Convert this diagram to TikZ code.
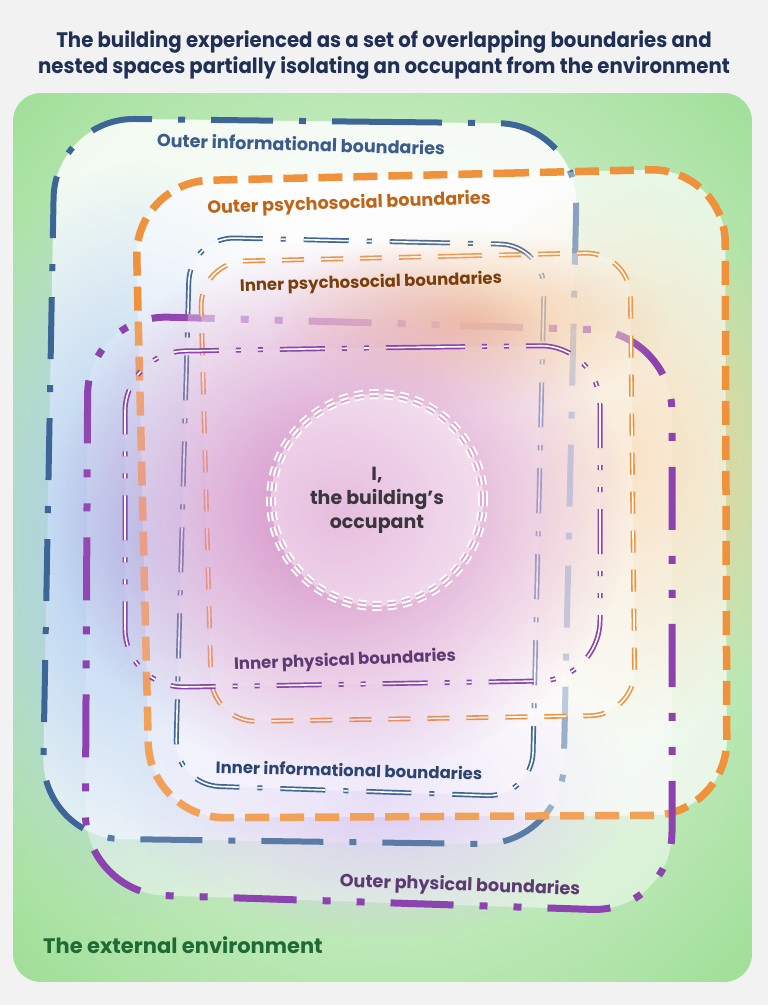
\documentclass[tikz,border=0pt]{standalone}
\usepackage{fontspec}
\setmainfont{Poppins}
\newfontfamily\titlefont[FakeStretch=0.94]{Poppins}
\usetikzlibrary{fadings}

\definecolor{pagebg}{HTML}{F2F2F2}
\definecolor{envgreen}{HTML}{A2E09A}
\definecolor{envtxt}{HTML}{1E6B36}
\definecolor{titlenavy}{HTML}{1F2F55}
\definecolor{infoblue}{HTML}{3D6597}
\definecolor{psyorange}{HTML}{F0913C}
\definecolor{physpurple}{HTML}{8C43B0}
\definecolor{oinfotxt}{HTML}{3B5B8E}
\definecolor{iinfotxt}{HTML}{2B4472}
\definecolor{opsytxt}{HTML}{C06418}
\definecolor{ipsytxt}{HTML}{7A3E0A}
\definecolor{physTxt}{HTML}{5C3A72}
\definecolor{occgray}{HTML}{3A363C}
\definecolor{occgap}{HTML}{E0A6D0}
\definecolor{leftblue}{HTML}{A6C6F2}
\definecolor{rightpeach}{HTML}{F4C78E}
\definecolor{lowlilac}{HTML}{D2BEF0}
\definecolor{midpink}{HTML}{CF7CBF}
\definecolor{toppeach}{HTML}{F2C49A}

\tikzfading[name=softblob, inner color=transparent!0, outer color=transparent!100]

\begin{document}
\begin{tikzpicture}[x=1pt, y=-1pt,
    lbl/.style={inner sep=0pt, font=\bfseries\fontsize{16.5}{18}\selectfont},
    biglbl/.style={inner sep=0pt, font=\bfseries\fontsize{17.6}{19}\selectfont},
    veil/.style={fill=white, fill opacity=#1},
    blob/.style={path fading=softblob, fill opacity=#1},
    oinfo/.style={draw=infoblue, line width=6pt, rounded corners=80pt, dash pattern=on 62pt off 26pt on 7pt off 26pt},
    opsy/.style={draw=psyorange, line width=7.5pt, rounded corners=75pt, dash pattern=on 24pt off 11pt},
    ophys/.style={draw=physpurple, line width=7pt, rounded corners=80pt, dash pattern=on 63pt off 26pt on 8pt off 26pt on 8pt off 26pt},
    iinfo/.style={draw=infoblue, line width=1.7pt, double=white, double distance=1.6pt, rounded corners=45pt, dash pattern=on 45pt off 18pt on 5pt off 18pt},
    ipsy/.style={draw=psyorange, line width=1.6pt, double=white, double distance=1.7pt, rounded corners=45pt, dash pattern=on 22pt off 17pt},
    iphys/.style={draw=physpurple, line width=1.7pt, double=white, double distance=1.6pt, rounded corners=60pt, dash pattern=on 45pt off 17pt on 5pt off 17pt on 5pt off 17pt},
    dashring/.style={dash pattern=on 9pt off 6pt}
]
    \useasboundingbox (0,0) rectangle (768,1005);
    \fill[pagebg] (0,0) rectangle (768,1005);

    \begin{scope}
        \clip[rounded corners=28pt] (13,93) rectangle (752,982);
        % --- the external environment ---
        \fill[envgreen] (13,93) rectangle (752,982);
        \fill[white, blob=.95] (384,530) ellipse (520pt and 600pt);

        % --- base tints ---
        \path[veil=.85, rounded corners=80pt] (300,121) -- (578,124) -- (562,845) -- (42,838) -- (55,118) -- cycle;
        \path[veil=.5, rounded corners=75pt] (430,175) -- (725,168) -- (727,815) -- (150,818) -- (135,182) -- cycle;
        \path[veil=.4, rounded corners=80pt] (380,323) -- (672,332) -- (672,912) -- (85,893) -- (88,315) -- cycle;
        \fill[leftblue, blob=1] (140,540) ellipse (230pt and 380pt);
        \fill[rightpeach, blob=1] (620,460) ellipse (200pt and 280pt);
        \fill[lowlilac, blob=1] (380,790) ellipse (260pt and 150pt);
    \end{scope}

    % --- outer boundaries ---
    \path[oinfo] (300,121) -- (578,124) -- (562,845) -- (42,838) -- (55,118) -- cycle;
    \path[veil=.4, opsy] (430,175) -- (725,168) -- (727,815) -- (150,818) -- (135,182) -- cycle;
    \path[veil=.15, ophys] (380,323) -- (672,332) -- (672,912) -- (85,893) -- (88,315) -- cycle;

    % --- inner boundaries ---
    \path[veil=.35, iinfo] (360,241) -- (545,245) -- (532,797) -- (175,785) -- (190,237) -- cycle;
    \path[veil=.35, ipsy] (415,257) -- (630,252) -- (635,715) -- (212,722) -- (200,262) -- cycle;
    \fill[toppeach, blob=.9] (470,320) ellipse (200pt and 90pt);
    \fill[midpink, blob=1] (340,510) ellipse (290pt and 270pt);
    \path[veil=.1, iphys] (360,348) -- (600,345) -- (600,680) -- (125,688) -- (125,352) -- cycle;

    % --- occupant ---
    \node[circle, minimum size=212pt, fill=white, fill opacity=.45, text opacity=1,
          draw=white, line width=10pt, dashring,
          postaction={draw=occgap, fill=none, line width=6pt, dashring},
          postaction={draw=white, fill=none, line width=2.2pt, dashring},
          align=center, text=occgray, font=\bfseries\fontsize{19}{24}\selectfont] (occ) at (377,500) {I,\\the building’s\\occupant};

    % --- labels ---
    \node[biglbl, text=oinfotxt, rotate=-1.6] (oinfolbl) at (301,144) {Outer informational boundaries};
    \node[biglbl, text=opsytxt, rotate=2] (opsylbl) at (349,204) {Outer psychosocial boundaries};
    \node[lbl, text=ipsytxt, rotate=1.7] (ipsylbl) at (371,283) {Inner psychosocial boundaries};
    \node[lbl, text=physTxt, rotate=2.3] (iphyslbl) at (345,661) {Inner physical boundaries};
    \node[lbl, text=iinfotxt, rotate=-1.5] (iinfolbl) at (349,770) {Inner informational boundaries};
    \node[biglbl, text=physTxt, rotate=-2] (ophyslbl) at (460,886) {Outer physical boundaries};
    \node[anchor=west, inner sep=0pt, text=envtxt, font=\bfseries\fontsize{21}{24}\selectfont] (envlbl) at (43,945) {The external environment};

    % --- title ---
    \node[align=center, text=titlenavy, font=\titlefont\bfseries\fontsize{21}{26}\selectfont] (title) at (384,55) {The building experienced as a set of overlapping boundaries and\\nested spaces partially isolating an occupant from the environment};
\end{tikzpicture}
\end{document}
